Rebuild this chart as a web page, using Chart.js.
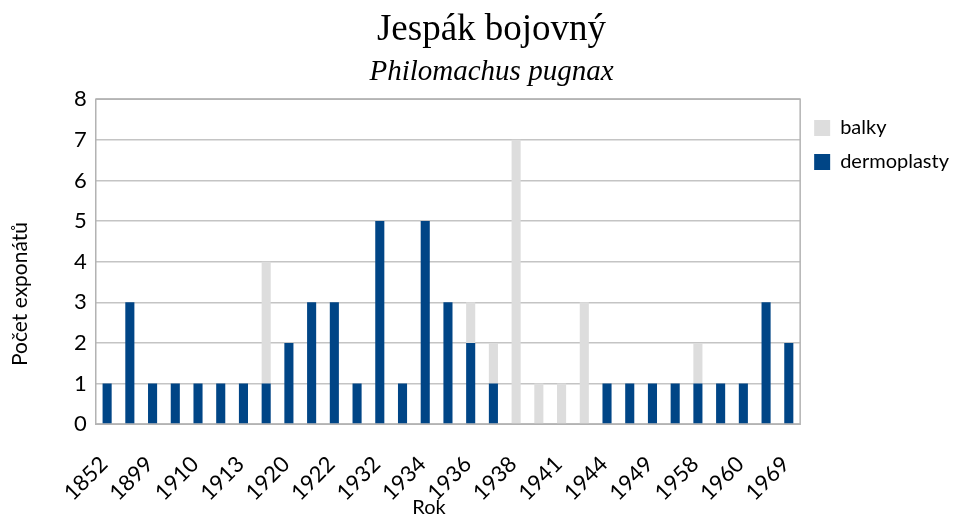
<!DOCTYPE html>
<html>
<head>
<meta charset="utf-8">
<script src="https://cdn.jsdelivr.net/npm/chart.js@4"></script>
<style>
html,body{margin:0;padding:0;background:#fff;}
#wrap{width:980px;height:517px;position:relative;}
</style>
</head>
<body>
<div id="wrap"><canvas id="c" width="980" height="517"></canvas></div>
<script>
const categories = ['1852','1895','1899','1905','1910','1912','1913','1917','1920','1921','1922','1928','1932','1933','1934','1935','1936','1937','1938','1940','1941','1943','1944','1946','1949','1955','1958','1959','1960','1965','1969'];
const dermoplasty = [1,3,1,1,1,1,1,1,2,3,3,1,5,1,5,3,2,1,0,0,0,0,1,1,1,1,1,1,1,3,2];
const balky       = [0,0,0,0,0,0,0,3,0,0,0,0,0,0,0,0,1,1,7,1,1,3,0,0,0,0,1,0,0,0,0];
const yTicks = [0,1,2,3,4,5,6,7,8];
const titleText = 'Jespák bojovný';
const subtitleText = 'Philomachus pugnax';
const yTitle = 'Počet exponátů';
const xTitle = 'Rok';

const frame = {
  id: 'frame',
  afterDraw(chart) {
    const {ctx, chartArea: a} = chart;
    ctx.save();
    ctx.strokeStyle = '#b3b3b3';
    ctx.lineWidth = 1.5;
    ctx.strokeRect(a.left, a.top, a.right - a.left, a.bottom - a.top);
    ctx.fillStyle = '#000';
    ctx.font = '20px Lato';
    ctx.textAlign = 'center';
    ctx.textBaseline = 'middle';
    ctx.fillText(xTitle, 429, 508);
    ctx.font = '21px Lato';
    ctx.translate(20, 294);
    ctx.rotate(-Math.PI / 2);
    ctx.fillText(yTitle, 0, 0);
    ctx.restore();
  }
};

new Chart(document.getElementById('c'), {
  type: 'bar',
  data: {
    labels: categories,
    datasets: [
      {label: 'dermoplasty', data: dermoplasty, backgroundColor: '#004586', borderWidth: 0},
      {label: 'balky', data: balky, backgroundColor: '#dddddd', borderWidth: 0}
    ]
  },
  options: {
    responsive: false,
    animation: false,
    layout: {padding: {left: 24, right: 21, top: 0, bottom: 0}},
    datasets: {bar: {categoryPercentage: 1, barPercentage: 0.4}},
    plugins: {
      title: {display: true, text: titleText, color: '#000', font: {family: 'Liberation Serif', size: 37, weight: 'normal'}, padding: {top: 8, bottom: 3}},
      subtitle: {display: true, text: subtitleText, color: '#000', font: {family: 'Liberation Serif', size: 29, style: 'italic'}, padding: {top: 0, bottom: 9}},
      legend: {
        position: 'right', align: 'start', reverse: true,
        title: {display: true, text: '', font: {size: 10}, padding: {top: 92, bottom: 0}},
        labels: {color: '#000', font: {family: 'Lato', size: 20}, boxWidth: 16, boxHeight: 16, padding: 14}
      },
      tooltip: {enabled: false}
    },
    scales: {
      x: {
        stacked: true,
        grid: {display: false, drawTicks: false},
        border: {display: false},
        afterFit: (s) => { s.height -= 16; },
        ticks: {
          autoSkip: false, maxRotation: 45, minRotation: 45, padding: 27, labelOffset: -3,
          color: '#000', font: {family: 'Lato', size: 22},
          callback: function(v, i) { return i % 2 === 0 ? categories[i] : ''; }
        }
      },
      y: {
        stacked: true, min: 0, max: 8,
        afterBuildTicks: (s) => { s.ticks = yTicks.map(v => ({value: v})); },
        afterFit: (s) => { s.width += 41; },
        grid: {color: '#c4c4c4', lineWidth: 1.5, drawTicks: false},
        border: {display: false},
        ticks: {color: '#000', font: {family: 'Lato', size: 22}, padding: 9}
      }
    }
  },
  plugins: [frame]
});
</script>
</body>
</html>
